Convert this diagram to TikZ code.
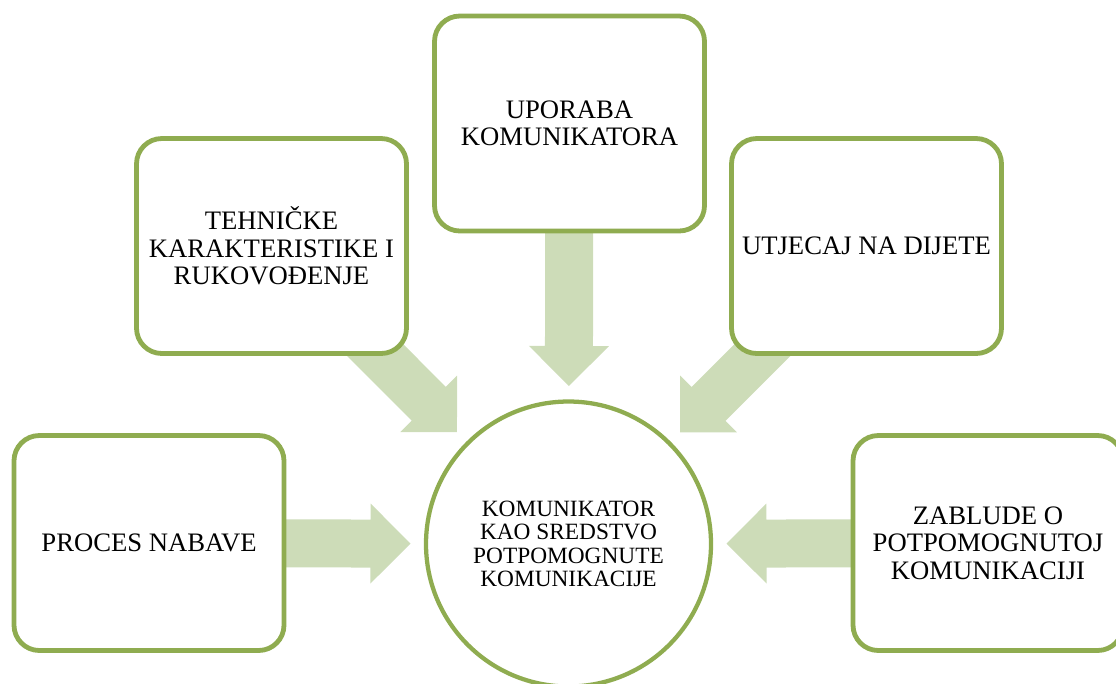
\documentclass[tikz,border=0pt]{standalone}
\usepackage{fontspec}
\setmainfont{Liberation Serif}
\usepackage{xcolor}
\usetikzlibrary{calc,backgrounds}

\definecolor{boxgreen}{RGB}{143,172,80}
\definecolor{arrowgreen}{RGB}{205,220,184}

\tikzset{
  topicbox/.style={draw=boxgreen, line width=3.6pt, fill=white, rounded corners=19pt,
    minimum width=202.5pt, minimum height=161.25pt, inner sep=0pt, align=center,
    font=\fontsize{20}{20.5}\selectfont},
  hubcircle/.style={circle, draw=boxgreen, line width=3.2pt, fill=white,
    minimum size=213.75pt, inner sep=0pt, align=center,
    font=\fontsize{17.5}{17.5}\selectfont},
  blockarrow/.style={fill=arrowgreen, draw=none}
}

% block arrow from a topic box towards the hub
\newcommand{\feedarrow}[1]{%
  \coordinate (#1-tip) at ($(hub)!118.5pt!(#1)$);
  \coordinate (#1-neck) at ($(hub)!148.5pt!(#1)$);
  \coordinate (#1-tail) at ($(hub)!247.5pt!(#1)$);
  \fill[blockarrow] (#1-tip) -- ($(#1-neck)!30pt!90:(#1-tip)$)
    -- ($(#1-neck)!18pt!90:(#1-tip)$) -- ($(#1-tail)!18pt!90:(#1-tip)$)
    -- ($(#1-tail)!18pt!-90:(#1-tip)$) -- ($(#1-neck)!18pt!-90:(#1-tip)$)
    -- ($(#1-neck)!30pt!-90:(#1-tip)$) -- cycle;}

\begin{document}
\begin{tikzpicture}[x=0.75pt,y=0.75pt,yscale=-1,xscale=1]
\useasboundingbox (0,0) rectangle (1116,683);

% Hub
\node[hubcircle] (hub) at (568.5,544) {KOMUNIKATOR\\KAO SREDSTVO\\POTPOMOGNUTE\\KOMUNIKACIJE};

% Topic boxes
\node[topicbox] (uporaba) at (569.5,123.5) {UPORABA\\KOMUNIKATORA};
\node[topicbox] (tehnika) at (271.5,246) {TEHNIČKE\\KARAKTERISTIKE I\\RUKOVOĐENJE};
\node[topicbox] (utjecaj) at (866.5,246) {UTJECAJ NA DIJETE};
\node[topicbox] (nabava) at (149,543) {PROCES NABAVE};
\node[topicbox] (zablude) at (988,543) {ZABLUDE O\\POTPOMOGNUTOJ\\KOMUNIKACIJI};

% Block arrows
\begin{scope}[on background layer]
\feedarrow{uporaba}
\feedarrow{tehnika}
\feedarrow{utjecaj}
\feedarrow{nabava}
\feedarrow{zablude}
\end{scope}

\end{tikzpicture}
\end{document}
